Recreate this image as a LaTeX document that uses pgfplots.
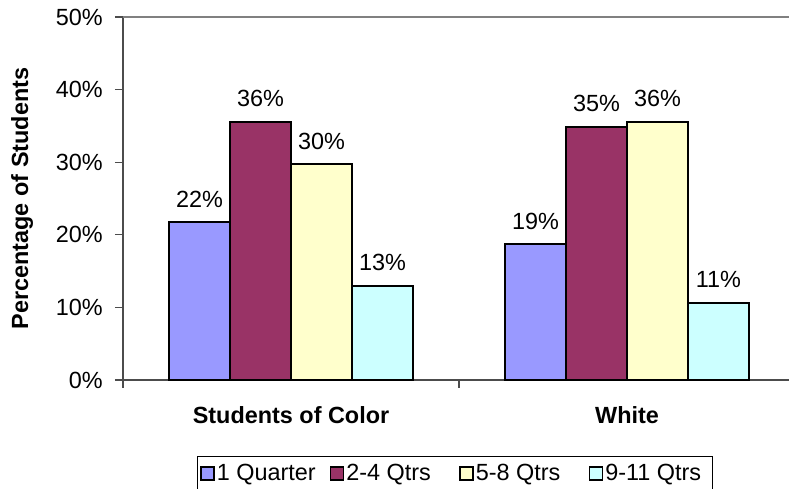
\documentclass[border=0pt]{standalone}
\usepackage{pgfplots}
\pgfplotsset{compat=1.18}
\usepackage{fontspec}
\setmainfont{Liberation Sans}
\definecolor{cA}{HTML}{9999FF}
\definecolor{cB}{HTML}{993366}
\definecolor{cC}{HTML}{FFFFCC}
\definecolor{cD}{HTML}{CCFFFF}
\newcommand{\chartfont}{\fontsize{23.5}{28}\selectfont}
\newcommand{\lt}[1]{\makebox[102bp][l]{#1}}
\begin{document}
\begin{tikzpicture}[x=1bp,y=1bp]
\useasboundingbox (0,0) rectangle (789,489);
\clip (0,0) rectangle (789,489);
\begin{axis}[
  at={(123bp,109bp)}, anchor=south west,
  scale only axis, width=672bp, height=363bp,
  xmin=-0.5, xmax=1.5, ymin=0, ymax=50,
  clip=false,
  /pgf/number format/assume math mode=true,
  axis x line*=bottom, axis y line*=left,
  axis line style={-, draw=black!70, line width=1.5bp},
  tick align=outside, major tick length=8bp,
  tick style={draw=black!70, line width=1.2bp},
  xtick={-0.5,0.5,1.5},
  xticklabels={Students of Color, White},
  x tick label as interval,
  xticklabel style={font=\chartfont\bfseries, inner sep=0pt, anchor=north, yshift=-18bp},
  ytick={0,10,20,30,40,50},
  yticklabels={0\%,10\%,20\%,30\%,40\%,50\%},
  yticklabel style={font=\chartfont, inner sep=0pt, anchor=east, xshift=-12bp},
  ylabel={Percentage of Students},
  ylabel style={font=\chartfont\bfseries, at={(axis description cs:-0.1503,0.5)}, anchor=center},
  ybar=0pt, bar width=0.1815,
  every axis plot/.append style={draw=black, line width=2bp},
  nodes near coords={\pgfmathprintnumber[fixed,precision=0]{\pgfplotspointmeta}\%},
  every node near coord/.append style={font=\chartfont, inner sep=0pt, anchor=south, yshift=14bp, black},
  legend columns=-1,
  legend style={at={(axis description cs:0.110,-0.2094)}, anchor=north west,
    draw=black, line width=1bp, font=\chartfont, inner xsep=3bp, inner ysep=6bp,
    /tikz/every even column/.append style={column sep=9bp}},
  legend image code/.code={\draw[#1, line width=1.5bp] (0bp,-6.5bp) rectangle (13bp,6.5bp);},
]
\addplot[fill=cA] coordinates {(0,21.7) (1,18.7)};
\addplot[fill=cB] coordinates {(0,35.6) (1,34.9)};
\addplot[fill=cC] coordinates {(0,29.7) (1,35.6)};
\addplot[fill=cD] coordinates {(0,13.0) (1,10.6)};
\legend{\lt{1 Quarter}, \lt{2-4 Qtrs}, \lt{5-8 Qtrs}, \lt{9-11 Qtrs}}
\draw[gray, line width=2bp] (axis description cs:0,1) -- (axis description cs:1,1);
\end{axis}
\end{tikzpicture}
\end{document}
